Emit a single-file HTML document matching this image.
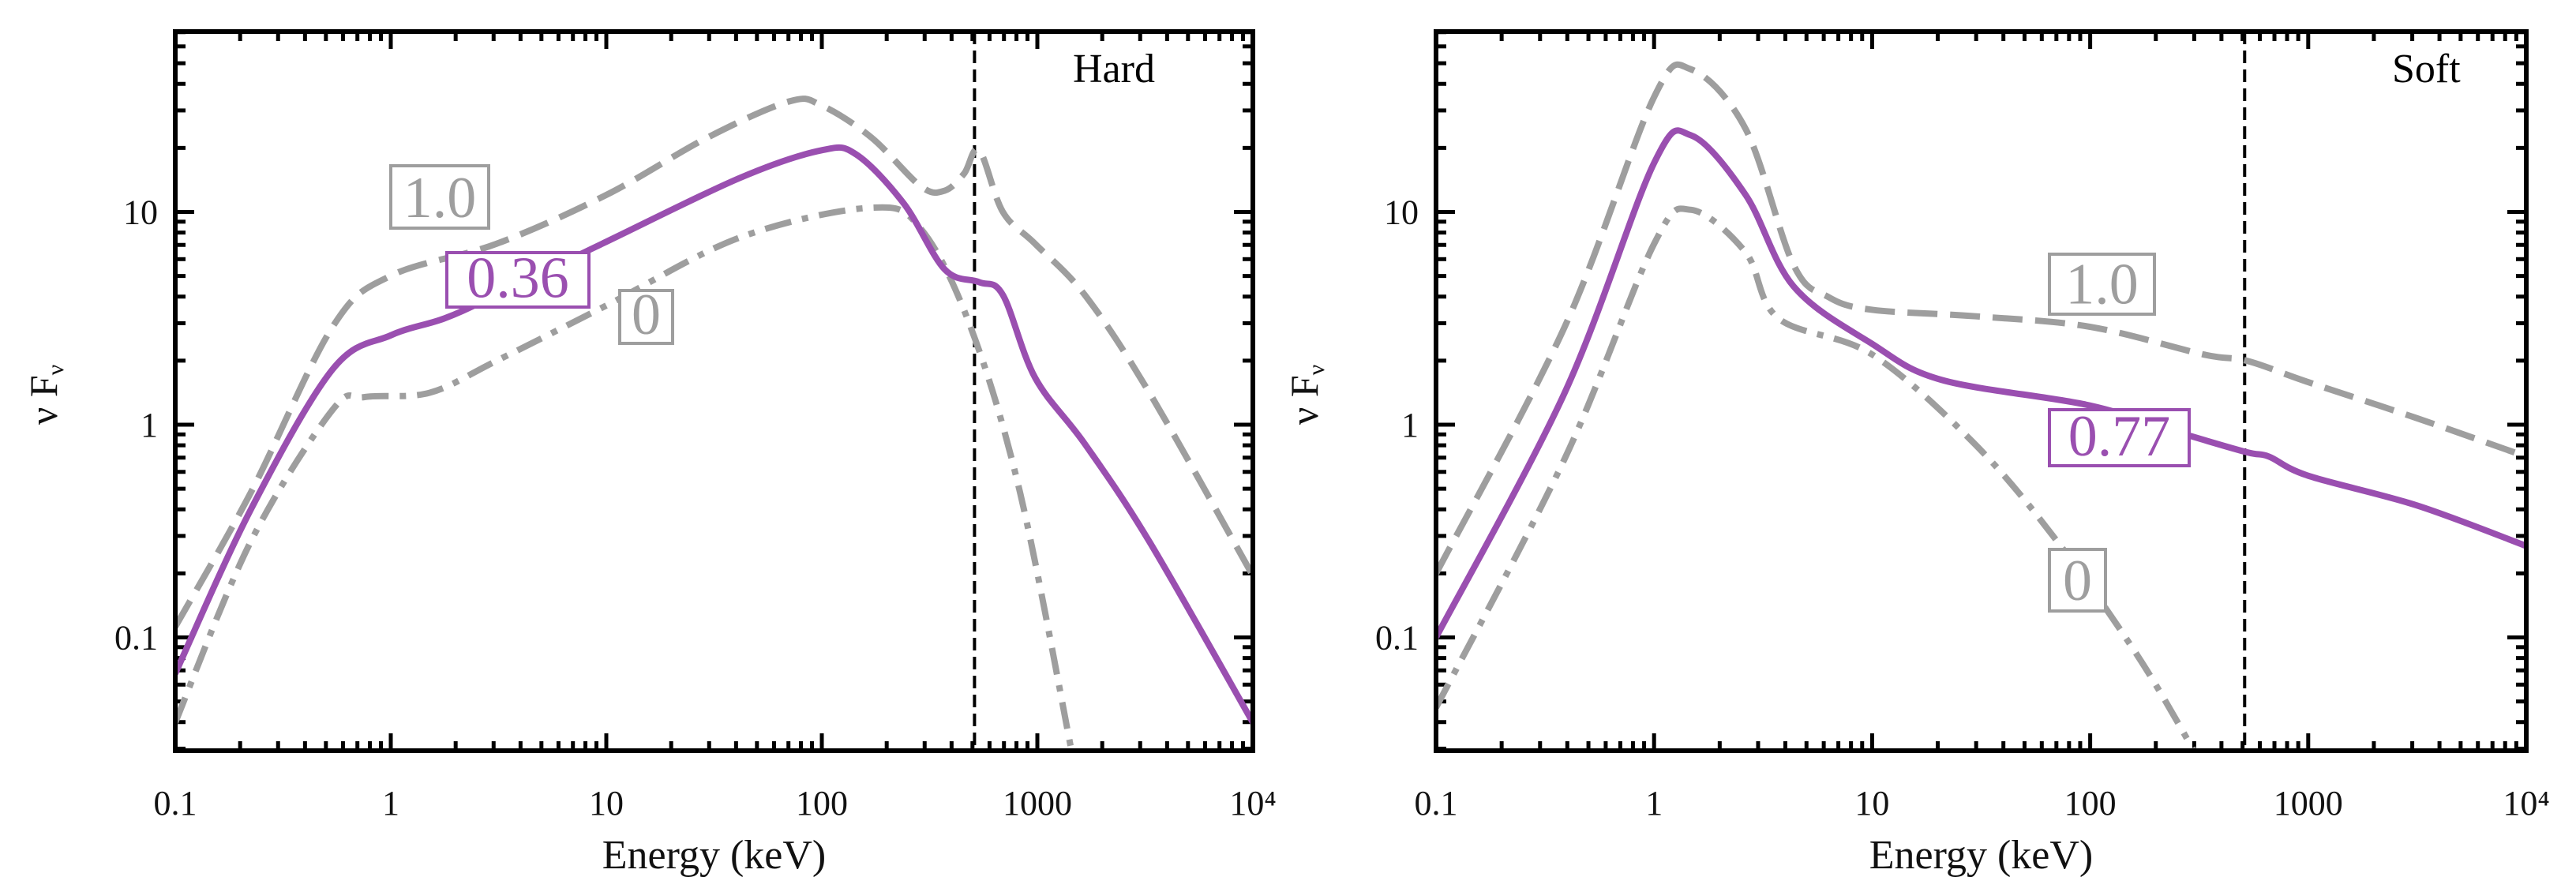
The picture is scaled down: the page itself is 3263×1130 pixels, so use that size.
<!DOCTYPE html>
<html><head><meta charset="utf-8"><style>
html,body{margin:0;padding:0;background:#fff;}
svg{display:block;font-family:"Liberation Serif",serif;}
</style></head><body>
<svg id="chart" width="3263" height="1130" viewBox="0 0 3263 1130" xmlns="http://www.w3.org/2000/svg"></svg>
<script>
// ---- data (log10 Energy keV, log10 nuFnu) ----
const hardLogE_top=[-1,-0.65,-0.27,0,0.49,1,1.47,1.85,2.0,2.23,2.46,2.57,2.66,2.73,2.84,2.99,3.22,3.52,4];
const hardLogF_top=[-0.95,-0.32,0.46,0.70,0.85,1.08,1.35,1.52,1.50,1.35,1.12,1.10,1.18,1.29,1.0,0.85,0.61,0.15,-0.71];
const hardLogE_mid=[-1,-0.65,-0.27,0,0.25,0.49,1,1.62,2.0,2.16,2.38,2.57,2.73,2.84,2.99,3.22,3.52,4];
const hardLogF_mid=[-1.17,-0.40,0.26,0.42,0.50,0.61,0.86,1.16,1.29,1.27,1.04,0.73,0.67,0.61,0.22,-0.09,-0.55,-1.40];
const hardLogE_low=[-1,-0.65,-0.27,-0.12,0.18,0.49,1,1.62,2.23,2.46,2.69,2.92,3.16];
const hardLogF_low=[-1.40,-0.55,0.07,0.13,0.15,0.30,0.56,0.88,1.02,0.92,0.46,-0.32,-1.54];
const softLogE_top=[-1,-0.41,0,0.17,0.42,0.64,0.8,1,1.47,2,2.52,2.72,3,3.5,4];
const softLogF_top=[-0.70,0.46,1.54,1.67,1.39,0.75,0.60,0.54,0.51,0.46,0.33,0.30,0.20,0.03,-0.15];
const softLogE_mid=[-1,-0.41,0,0.17,0.42,0.64,1,1.32,2,2.45,2.72,2.82,3,3.5,4];
const softLogF_mid=[-1.0,0.15,1.23,1.36,1.08,0.65,0.38,0.21,0.09,-0.05,-0.13,-0.15,-0.24,-0.38,-0.57];
const softLogE_low=[-1,-0.41,0,0.17,0.42,0.57,1,1.47,1.85,2.22,2.48];
const softLogF_low=[-1.33,-0.16,0.85,1.01,0.81,0.50,0.33,-0.09,-0.55,-1.09,-1.54];
const xTickLabels=["0.1","1","10","100","1000","10⁴"];
const yTickLabels=["0.1","1","10"];
const lineEnergy=511;

const NS="http://www.w3.org/2000/svg";
const svg=document.getElementById('chart');
function el(tag,attrs,parent){const e=document.createElementNS(NS,tag);for(const k in attrs)e.setAttribute(k,attrs[k]);(parent||svg).appendChild(e);return e;}

function makePanel(p){
  const g=el('g',{});
  
  
  const X=l=>p.x0+(l+1)*(p.x1-p.x0)/5;
  const yTop=40,yBot=951,y1=538,dec=269.5;
  const Y=l=>y1-l*dec;
  const clip='clip-'+p.name;
  const cp=el('clipPath',{id:clip},g);el('rect',{x:p.x0,y:yTop,width:p.x1-p.x0,height:yBot-yTop},cp);
  const tg=el('g',{stroke:'#000','stroke-width':5},g);
  
  for(let d=-1;d<4;d++)for(let m=1;m<10;m++){const l=d+Math.log10(m);const x=X(l);const L=m===1?22:12;
    if(m===1&&d===-1)continue;
    el('line',{x1:x,y1:yBot,x2:x,y2:yBot-L},tg);el('line',{x1:x,y1:yTop,x2:x,y2:yTop+L},tg);}
  for(let d=-2;d<2;d++)for(let m=1;m<10;m++){const l=d+Math.log10(m);const y=Y(l);if(y<yTop||y>yBot)continue;const L=m===1?24:13;
    el('line',{x1:p.x0,y1:y,x2:p.x0+L,y2:y},tg);el('line',{x1:p.x1,y1:y,x2:p.x1-L,y2:y},tg);}
  xTickLabels.forEach((t,i)=>{const tx=el('text',{x:X(i-1),y:1032,'font-size':44,'text-anchor':'middle',fill:'#111'},g);tx.textContent=t;
    });
  yTickLabels.forEach((t,i)=>{const ty=el('text',{x:p.x0-22,y:Y(i-1)+15,'font-size':44,'text-anchor':'end',fill:'#111'},g);ty.textContent=t;
    });
  const xt=el('text',{x:(p.x0+p.x1)/2,y:1100,'font-size':52,'text-anchor':'middle',fill:'#111'},g);xt.textContent='Energy (keV)';
  
  const yt=el('text',{x:0,y:0,'font-size':50,'text-anchor':'middle',fill:'#111',transform:`translate(${p.x0-150},500) rotate(-90)`},g);
  yt.innerHTML='ν F<tspan font-size="30" dy="8">ν</tspan>';
  
  const st=el('text',{x:p.tx,y:104,'font-size':52,fill:'#000'},g);st.textContent=p.title;
  
  const vx=X(Math.log10(lineEnergy));
  const vl=el('line',{x1:vx,y1:yTop,x2:vx,y2:yBot,stroke:'#000','stroke-width':4,'stroke-dasharray':'16,8'},g);
  
  function path(xs,ys){const P=xs.map((v,i)=>[X(v),Y(ys[i])]);let d='M'+P[0][0]+','+P[0][1];
    for(let i=0;i<P.length-1;i++){const p0=P[i-1]||P[i],p1=P[i],p2=P[i+1],p3=P[i+2]||P[i+1];
      d+=` C${p1[0]+(p2[0]-p0[0])/6},${p1[1]+(p2[1]-p0[1])/6} ${p2[0]-(p3[0]-p1[0])/6},${p2[1]-(p3[1]-p1[1])/6} ${p2[0]},${p2[1]}`;}return d;}
  const c=el('g',{'clip-path':`url(#${clip})`,fill:'none'},g);
  const a=el('path',{d:path(p.top[0],p.top[1]),stroke:'#9e9e9e','stroke-width':8,'stroke-dasharray':'38,16'},c);
  
  const b=el('path',{d:path(p.low[0],p.low[1]),stroke:'#9e9e9e','stroke-width':8,'stroke-dasharray':'34,14,8,14'},c);
  
  const m=el('path',{d:path(p.mid[0],p.mid[1]),stroke:'#9a4fb0','stroke-width':8},c);
  
  const fr=el('rect',{x:p.x0,y:yTop,width:p.x1-p.x0,height:yBot-yTop,fill:'none',stroke:'#000','stroke-width':6},g);
  
  p.boxes.forEach(bx=>{const bg=el('g',{},g);
    
    el('rect',{x:bx.x,y:bx.y,width:bx.w,height:bx.h,fill:'#fff',stroke:bx.c,'stroke-width':4},bg);
    const t=el('text',{x:bx.x+bx.w/2,y:bx.y+bx.h*0.82,'font-size':74,'text-anchor':'middle',fill:bx.c},bg);t.textContent=bx.t;});
}
makePanel({name:'hard-panel',x0:222,x1:1587,title:'Hard',tx:1359,
  top:[hardLogE_top,hardLogF_top],mid:[hardLogE_mid,hardLogF_mid],low:[hardLogE_low,hardLogF_low],
  boxes:[{t:'1.0',x:495,y:210,w:124,h:79,c:'#9e9e9e'},{t:'0.36',x:566,y:320,w:180,h:69,c:'#9a4fb0'},{t:'0',x:785,y:368,w:67,h:67,c:'#9e9e9e'}]});
makePanel({name:'soft-panel',x0:1819,x1:3200,title:'Soft',tx:3030,
  top:[softLogE_top,softLogF_top],mid:[softLogE_mid,softLogF_mid],low:[softLogE_low,softLogF_low],
  boxes:[{t:'1.0',x:2596,y:322,w:133,h:76,c:'#9e9e9e'},{t:'0.77',x:2596,y:519,w:177,h:71,c:'#9a4fb0'},{t:'0',x:2596,y:696,w:71,h:78,c:'#9e9e9e'}]});
</script>
</body></html>
